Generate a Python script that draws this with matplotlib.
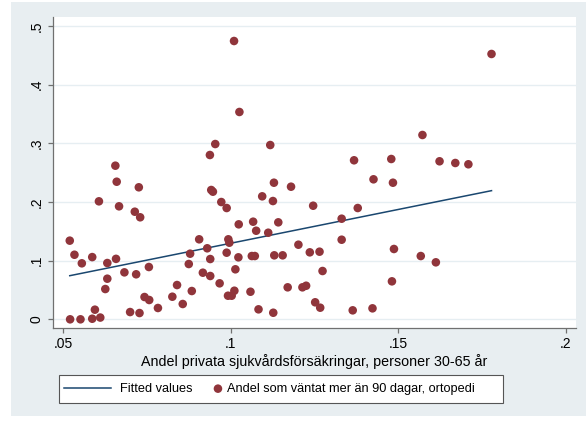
import numpy as np
import matplotlib.pyplot as plt
from matplotlib.patches import Rectangle
from matplotlib.legend_handler import HandlerPathCollection

plt.rcParams["font.family"] = ["Liberation Sans", "DejaVu Sans"]

# ----------------------------------------------------------
# Data: share with private health insurance vs share waiting > 90 days
# ----------------------------------------------------------

andel_privat = [
    0.0520, 0.0534, 0.0556, 0.0587, 0.0632, 0.0658, 0.0683, 0.0718, 0.0756, 0.0632,
    0.0626, 0.0743, 0.0757, 0.0783, 0.0595, 0.0521, 0.0552, 0.0587, 0.0611, 0.0700,
    0.0728, 0.0656, 0.0660, 0.0726, 0.0607, 0.0667, 0.0714, 0.0730, 0.0826, 0.0857,
    0.0840, 0.0875, 0.0879, 0.0884, 0.0906, 0.0930, 0.0917, 0.0939, 0.0939, 0.0967,
    0.0954, 0.0938, 0.0942, 0.0947, 0.0972, 0.0988, 0.0993, 0.0996, 0.0988, 0.0992,
    0.1003, 0.1011, 0.1014, 0.1023, 0.1024, 0.1010, 0.1026, 0.1063, 0.1072, 0.1067,
    0.1076, 0.1059, 0.1083, 0.1094, 0.1118, 0.1129, 0.1126, 0.1112, 0.1130, 0.1155,
    0.1142, 0.1180, 0.1202, 0.1170, 0.1214, 0.1225, 0.1236, 0.1246, 0.1252, 0.1265,
    0.1267, 0.1274, 0.1127, 0.1331, 0.1331, 0.1364, 0.1368, 0.1379, 0.1426, 0.1423,
    0.1479, 0.1484, 0.1487, 0.1481, 0.1567, 0.1572, 0.1612, 0.1623, 0.1670, 0.1709,
    0.1778,
]

andel_vantat = [
    0.134, 0.110, 0.0954, 0.106, 0.0959, 0.103, 0.080, 0.0767, 0.0891, 0.0692,
    0.0516, 0.038, 0.0329, 0.0193, 0.0164, 0.000, 0.000, 0.001, 0.003, 0.0124,
    0.0107, 0.2617, 0.2344, 0.2249, 0.201, 0.1925, 0.1833, 0.1738, 0.0385, 0.0261,
    0.0584, 0.0942, 0.1118, 0.0482, 0.1363, 0.121, 0.0794, 0.0738, 0.1027, 0.0613,
    0.2986, 0.2799, 0.2203, 0.2174, 0.1998, 0.1896, 0.1363, 0.1305, 0.1135, 0.0402,
    0.0402, 0.0487, 0.0852, 0.1056, 0.1618, 0.4741, 0.3532, 0.1078, 0.1078, 0.1663,
    0.1509, 0.047, 0.017, 0.2095, 0.2969, 0.2327, 0.2015, 0.1475, 0.109, 0.109,
    0.1652, 0.2259, 0.1271, 0.0545, 0.0545, 0.0572, 0.1141, 0.1935, 0.029, 0.1152,
    0.0198, 0.0823, 0.0112, 0.1714, 0.1356, 0.0153, 0.2709, 0.1896, 0.2385, 0.0187,
    0.2731, 0.2327, 0.1198, 0.0647, 0.1078, 0.314, 0.0971, 0.2692, 0.2663, 0.2641,
    0.452,
]

x_ticks = [0.05, 0.10, 0.15, 0.20]
x_tick_labels = [".05", ".1", ".15", ".2"]
y_ticks = [0.0, 0.1, 0.2, 0.3, 0.4, 0.5]
y_tick_labels = ["0", ".1", ".2", ".3", ".4", ".5"]

x_title = "Andel privata sjukvårdsförsäkringar, personer 30-65 år"
fit_label = "Fitted values"
scatter_label = "Andel som väntat mer än 90 dagar, ortopedi"

# ----------------------------------------------------------
# Colours and sizes
# ----------------------------------------------------------

REGION_BG = "#E8EEF1"
GRID = "#E6EEF2"
AXIS = "#707070"
NAVY = "#1A476F"
MAROON = "#90353B"
FS_TICK = 10
FS_TITLE = 10.3
FS_LEG = 9.2

W, H = 586, 421

fig = plt.figure(figsize=(W / 100, H / 100), dpi=100, facecolor="white")

# outer graph region
fig.patches.append(
    Rectangle((11 / W, 1 - 416 / H), (W - 11) / W, (416 - 2) / H,
              transform=fig.transFigure, facecolor=REGION_BG,
              edgecolor="none", zorder=-10)
)

ax = fig.add_axes([53 / W, 1 - 328.3 / H, (576 - 53) / W, (328.3 - 16.7) / H])
ax.set_facecolor("white")

# ----------------------------------------------------------
# Scatter and linear fit
# ----------------------------------------------------------

x = np.array(andel_privat)
y = np.array(andel_vantat)

slope, intercept = np.polyfit(x, y, 1)
x_fit = np.array([x.min(), x.max()])
y_fit = intercept + slope * x_fit

fit_line, = ax.plot(x_fit, y_fit, color=NAVY, lw=1.1, zorder=3, label=fit_label)
points = ax.scatter(x, y, s=38, color=MAROON, edgecolors="none", zorder=4,
                    label=scatter_label)

# ----------------------------------------------------------
# Axes styling
# ----------------------------------------------------------

ax.set_xlim(0.047, 0.2030)
ax.set_ylim(-0.0153, 0.5155)

ax.set_xticks(x_ticks)
ax.set_xticklabels(x_tick_labels, fontsize=FS_TICK)
ax.set_yticks(y_ticks)
ax.set_yticklabels(y_tick_labels, fontsize=FS_TICK, rotation=90, va="center")

ax.grid(axis="y", color=GRID, lw=1.0, zorder=0)
ax.set_axisbelow(True)

for side in ["top", "right"]:
    ax.spines[side].set_visible(False)
for side in ["left", "bottom"]:
    ax.spines[side].set_color(AXIS)
    ax.spines[side].set_linewidth(0.9)

ax.tick_params(axis="both", direction="out", length=3.6, width=0.9,
               color=AXIS, labelcolor="black", pad=3)

ax.set_xlabel(x_title, fontsize=FS_TITLE, labelpad=2)

# ----------------------------------------------------------
# Legend below the plot
# ----------------------------------------------------------

fig.patches.append(
    Rectangle((59 / W, 1 - 403 / H), (503 - 59) / W, (403 - 375) / H,
              transform=fig.transFigure, facecolor="white",
              edgecolor="#555555", lw=0.8, zorder=1)
)

leg = fig.legend(
    handles=[fit_line, points],
    labels=[fit_label, scatter_label],
    loc="center left",
    bbox_to_anchor=(64 / W, 1 - 389 / H),
    ncol=2,
    frameon=False,
    fontsize=FS_LEG,
    handlelength=3.7,
    handletextpad=0.67,
    columnspacing=-1.68,
    borderpad=0,
    borderaxespad=0,
    scatterpoints=1,
    handler_map={points: HandlerPathCollection(xpad=3.67)},
)

fig.savefig("out.png", dpi=100, facecolor="white")
